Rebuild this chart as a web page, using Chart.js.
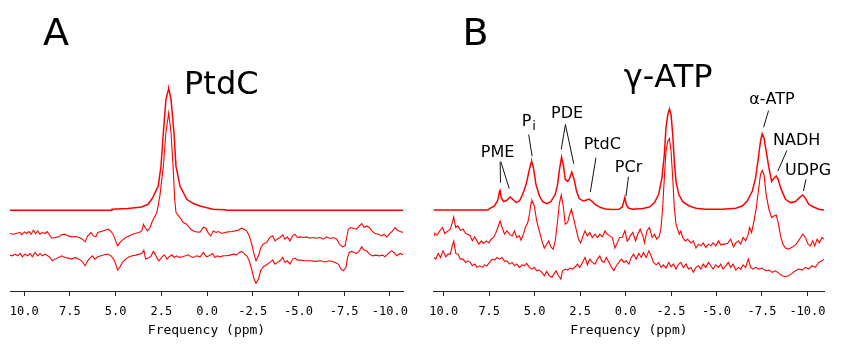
<!DOCTYPE html>
<html>
<head>
<meta charset="utf-8">
<script src="https://cdn.jsdelivr.net/npm/chart.js@4.4.1/dist/chart.umd.min.js"></script>
<style>
  body { margin: 0; background: #fff; }
  #wrap { position: relative; width: 841px; height: 346px; background: #fff; }
  canvas { position: absolute; top: 0; }
  #chartA { left: 0; }
  #chartB { left: 420px; }
</style>
</head>
<body>
<div id="wrap">
  <canvas id="chartA" width="420" height="346"></canvas>
  <canvas id="chartB" width="421" height="346"></canvas>
</div>
<script>
/* Data: [ppm, intensity (stacked offset units)] */

const tickValues = [10, 7.5, 5, 2.5, 0, -2.5, -5, -7.5, -10];

// Panel A - PtdC fit and residual traces
const fitA = [
  [10.78, 81], [5.25, 81], [5.2, 82], [4.33, 82.7], [3.58, 84.3], [3.23, 87], [3.03, 92],
  [2.94, 95], [2.76, 102], [2.67, 105.3], [2.52, 125.3], [2.39, 159], [2.25, 192], [2.13, 201],
  [2.10, 203], [2.07, 201], [1.97, 192], [1.81, 159], [1.70, 125.3], [1.48, 105.3], [1.11, 92],
  [0.77, 88], [0.39, 85.3], [-0.33, 82], [-0.98, 81.5], [-1.09, 81], [-10.72, 81]
];

const middleA = [
  [10.78, 57.7], [10.59, 57], [10.41, 58], [10.23, 58.7], [10.14, 56.3], [9.99, 59.3], [9.87, 57.7],
  [9.74, 59.7], [9.63, 57], [9.50, 61], [9.37, 57.7], [9.26, 60.3], [9.14, 57], [9.01, 58.7],
  [8.86, 57.7], [8.75, 59.7], [8.64, 57], [8.50, 53], [8.32, 53.7], [8.13, 54.3], [7.99, 56.3],
  [7.80, 57], [7.59, 55.3], [7.40, 54.3], [7.18, 54.7], [7.00, 53.7], [6.82, 52], [6.67, 49.3],
  [6.53, 55.3], [6.35, 58.7], [6.22, 55.3], [6.09, 54.3], [5.98, 58.7], [5.80, 59.7], [5.58, 61],
  [5.40, 62], [5.25, 59.7], [5.12, 56.3], [5.00, 50.3], [4.89, 45.3], [4.76, 48.7], [4.63, 51],
  [4.45, 53.7], [4.27, 55.3], [4.08, 57], [3.90, 58], [3.72, 58.7], [3.57, 60.3], [3.48, 67],
  [3.39, 63.7], [3.26, 60.3], [3.12, 63.7], [2.99, 70.3], [2.84, 75.3], [2.75, 78.7], [2.66, 87],
  [2.57, 97], [2.39, 125.3], [2.25, 159], [2.10, 178.7], [1.97, 159], [1.86, 125.3], [1.77, 92],
  [1.70, 79], [1.48, 73.7], [1.30, 68.7], [1.11, 67], [0.93, 62.7], [0.75, 60.3], [0.57, 59.3],
  [0.39, 59], [0.20, 64], [0.06, 63], [-0.07, 58], [-0.20, 55.3], [-0.34, 60.3], [-0.49, 58.7],
  [-0.62, 59.7], [-0.80, 57.7], [-0.98, 58.7], [-1.16, 59.3], [-1.35, 59.7], [-1.53, 60.3],
  [-1.71, 61], [-1.89, 63], [-2.02, 62], [-2.17, 60.3], [-2.31, 55.3], [-2.44, 47.3], [-2.57, 37],
  [-2.68, 30.3], [-2.81, 35.3], [-2.95, 43.7], [-3.08, 47.3], [-3.26, 48.7], [-3.44, 53.7],
  [-3.59, 55.3], [-3.72, 50.3], [-3.84, 52], [-3.99, 53.7], [-4.14, 56.3], [-4.26, 52], [-4.39, 54.3],
  [-4.54, 50.3], [-4.68, 55.3], [-4.81, 57], [-4.94, 53.7], [-5.08, 54.3], [-5.27, 53.7], [-5.45, 54.3],
  [-5.63, 53], [-5.81, 53.7], [-6.00, 53], [-6.18, 53.7], [-6.36, 52], [-6.54, 54.3], [-6.73, 52.7],
  [-6.91, 53.7], [-7.09, 52], [-7.24, 47.3], [-7.42, 44.3], [-7.55, 45.3], [-7.64, 53.7], [-7.73, 62],
  [-7.86, 63.7], [-8.04, 62.7], [-8.18, 62], [-8.33, 65.3], [-8.46, 67.7], [-8.59, 63.7], [-8.73, 65.3],
  [-8.88, 63.7], [-9.01, 60.3], [-9.19, 57.7], [-9.37, 57], [-9.55, 55.3], [-9.68, 57], [-9.83, 54.3],
  [-9.97, 57], [-10.15, 60.3], [-10.28, 63.7], [-10.41, 61], [-10.56, 59.7], [-10.74, 58.7]
];

const bottomA = [
  [10.78, 36], [10.65, 35.3], [10.50, 37], [10.36, 35.3], [10.23, 37.7], [10.10, 34.3], [9.96, 37],
  [9.81, 35.3], [9.68, 37.7], [9.56, 34.3], [9.41, 38.7], [9.26, 35.3], [9.14, 37.7], [9.01, 35.3],
  [8.86, 37], [8.72, 35.3], [8.59, 33.7], [8.46, 30.3], [8.32, 32], [8.13, 33.7], [7.95, 35.3],
  [7.77, 33.7], [7.59, 33], [7.40, 32], [7.22, 33.7], [7.04, 32], [6.86, 30.3], [6.67, 25.3],
  [6.53, 30.3], [6.40, 33], [6.27, 35.3], [6.13, 32], [5.98, 34.3], [5.80, 35.3], [5.62, 36.3],
  [5.43, 37], [5.25, 35.3], [5.11, 32], [5.00, 27], [4.89, 21], [4.76, 24.3], [4.63, 28.7],
  [4.45, 32], [4.27, 34.3], [4.08, 35.3], [3.90, 36], [3.72, 37], [3.57, 37.7], [3.46, 41],
  [3.36, 32], [3.21, 33], [3.06, 35.3], [2.94, 39.7], [2.84, 37], [2.74, 33], [2.63, 30.3],
  [2.48, 33.7], [2.33, 36.3], [2.19, 32], [2.08, 34.3], [1.93, 36.3], [1.79, 33.7], [1.66, 35.3],
  [1.53, 33.7], [1.35, 34.3], [1.17, 35.3], [1.02, 36.3], [0.88, 34.3], [0.75, 33.7], [0.57, 35.3],
  [0.38, 34.3], [0.20, 38.7], [0.11, 36.3], [0.02, 34.3], [-0.11, 35.3], [-0.31, 37.7], [-0.43, 33.7],
  [-0.56, 35.3], [-0.71, 34.3], [-0.89, 35.3], [-1.07, 35.3], [-1.25, 36], [-1.44, 37], [-1.62, 36.3],
  [-1.77, 38.7], [-1.89, 39.7], [-2.02, 37.7], [-2.17, 35.3], [-2.31, 30.3], [-2.44, 22], [-2.57, 12],
  [-2.68, 7.7], [-2.81, 12], [-2.93, 20.3], [-3.08, 24.3], [-3.26, 26.3], [-3.44, 28.7], [-3.59, 31],
  [-3.72, 27], [-3.84, 28.7], [-3.99, 30.3], [-4.14, 33.7], [-4.26, 28.7], [-4.39, 30.3], [-4.54, 27],
  [-4.68, 32], [-4.81, 33], [-4.94, 31], [-5.08, 31], [-5.36, 30.3], [-5.63, 30.3], [-5.91, 29.7],
  [-6.18, 30.3], [-6.45, 29.3], [-6.73, 30.3], [-7.00, 28.7], [-7.18, 27], [-7.33, 22], [-7.46, 20.3],
  [-7.60, 23.7], [-7.69, 33.7], [-7.78, 38.7], [-7.91, 39.7], [-8.04, 38.7], [-8.18, 37.7], [-8.33, 40.3],
  [-8.46, 44.3], [-8.59, 41], [-8.73, 40.3], [-8.88, 37], [-9.06, 35.3], [-9.24, 36], [-9.42, 35.3],
  [-9.61, 36], [-9.73, 34.3], [-9.92, 37.7], [-10.10, 40.3], [-10.23, 38.7], [-10.37, 35.3],
  [-10.56, 37.7], [-10.74, 36.3]
];

// Panel B - full fit and residual traces
const fitB = [
  [10.55, 81.3], [7.57, 81.3], [7.48, 82.7], [7.21, 85.3], [7.03, 91], [6.93, 100.3], [6.90, 101],
  [6.84, 93.7], [6.71, 89.7], [6.53, 91], [6.35, 94.3], [6.20, 92], [6.02, 88.7], [5.84, 90.3],
  [5.66, 97], [5.47, 107], [5.33, 118.7], [5.20, 128.7], [5.16, 129.7], [5.07, 123.7], [4.93, 107],
  [4.74, 95.3], [4.56, 89.7], [4.34, 87.7], [4.11, 89.7], [3.87, 97], [3.74, 107], [3.65, 120.3],
  [3.52, 134.3], [3.43, 127], [3.32, 112], [3.19, 110], [3.10, 112], [2.96, 119.3], [2.83, 112],
  [2.70, 100.3], [2.56, 93], [2.34, 90.3], [2.19, 91], [2.01, 92.3], [1.83, 89.7], [1.64, 86.3],
  [1.37, 83.7], [1.10, 82.3], [0.73, 81.7], [0.37, 82], [0.18, 84.3], [0.04, 94], [-0.04, 86.3],
  [-0.18, 83], [-0.40, 82], [-0.95, 82.7], [-1.31, 84.3], [-1.59, 88.7], [-1.82, 97], [-2.00, 113.7],
  [-2.13, 137], [-2.22, 163.7], [-2.32, 177], [-2.41, 182.7], [-2.50, 177], [-2.59, 157], [-2.68, 130.3],
  [-2.77, 110.3], [-2.92, 97], [-3.14, 89.7], [-3.50, 85.3], [-3.87, 83], [-4.41, 82], [-5.33, 82],
  [-6.06, 83], [-6.42, 85.3], [-6.69, 90.3], [-6.97, 100.3], [-7.15, 113.7], [-7.30, 133.7],
  [-7.42, 150.3], [-7.51, 157.7], [-7.61, 153.7], [-7.73, 140.3], [-7.88, 123.7], [-8.03, 110],
  [-8.15, 113], [-8.28, 115.5], [-8.39, 112], [-8.52, 103.7], [-8.79, 92], [-9.07, 88.7], [-9.34, 89.7],
  [-9.56, 93.7], [-9.74, 96.3], [-9.89, 93], [-10.07, 87], [-10.34, 84.3], [-10.62, 82], [-10.91, 81.3]
];

const middleB = [
  [10.55, 55], [10.49, 58], [10.37, 56], [10.22, 60.3], [10.07, 63.7], [9.95, 57.7], [9.76, 60.3],
  [9.64, 62], [9.53, 68.7], [9.45, 74.3], [9.34, 63.7], [9.22, 65.3], [9.09, 61], [8.94, 62],
  [8.80, 57.7], [8.67, 57], [8.54, 55.3], [8.43, 50.3], [8.30, 54.3], [8.17, 50.3], [8.07, 47],
  [7.94, 50.3], [7.81, 47.7], [7.66, 50.3], [7.52, 48.3], [7.39, 52], [7.26, 53.7], [7.15, 57.7],
  [7.03, 63.7], [6.90, 70.3], [6.79, 63.7], [6.66, 57], [6.53, 60.3], [6.39, 57], [6.24, 55.3],
  [6.11, 60.3], [5.99, 53.7], [5.84, 55.3], [5.75, 51], [5.62, 57], [5.51, 63.7], [5.38, 68.7],
  [5.29, 77], [5.20, 88.7], [5.15, 91], [5.02, 85.3], [4.89, 70.3], [4.75, 60.3], [4.60, 50.3],
  [4.47, 43], [4.34, 47], [4.23, 50.3], [4.11, 44.3], [3.98, 42], [3.87, 50.3], [3.74, 70.3],
  [3.65, 87], [3.54, 96.3], [3.43, 85.3], [3.32, 67], [3.19, 68.7], [3.10, 75.3], [2.98, 82],
  [2.87, 73.7], [2.74, 63.7], [2.59, 52], [2.47, 48.3], [2.34, 55.3], [2.23, 60.3], [2.10, 55.3],
  [1.97, 58.7], [1.83, 53.7], [1.68, 57], [1.55, 53.7], [1.42, 57], [1.28, 54.3], [1.13, 60.3],
  [1.01, 57], [0.88, 55.3], [0.73, 53.7], [0.59, 43], [0.46, 48.3], [0.33, 53.7], [0.18, 54],
  [0.04, 60.5], [-0.09, 50], [-0.18, 52], [-0.25, 55.3], [-0.40, 58.7], [-0.55, 50.3], [-0.67, 57],
  [-0.80, 62], [-0.95, 55.3], [-1.04, 48.3], [-1.17, 60.3], [-1.31, 63.7], [-1.46, 53.7], [-1.59, 57],
  [-1.71, 52], [-1.86, 55.3], [-1.95, 63.7], [-2.04, 83.7], [-2.13, 113.7], [-2.22, 140.3],
  [-2.32, 150.3], [-2.41, 153], [-2.50, 140.3], [-2.59, 113.7], [-2.68, 83.7], [-2.77, 67], [-2.86, 62],
  [-2.95, 57], [-3.04, 60.3], [-3.14, 53.7], [-3.28, 50.3], [-3.41, 52], [-3.59, 48.3], [-3.72, 50.3],
  [-3.87, 43], [-4.01, 47], [-4.14, 45.3], [-4.27, 48.3], [-4.41, 43.7], [-4.56, 47], [-4.69, 45.3],
  [-4.81, 48.3], [-4.96, 45.3], [-5.11, 50.3], [-5.23, 46.3], [-5.42, 47], [-5.60, 47.7], [-5.78, 52],
  [-5.93, 44.3], [-6.06, 48.3], [-6.20, 50.3], [-6.33, 47], [-6.46, 53.7], [-6.60, 50.3], [-6.75, 57],
  [-6.82, 63.7], [-6.93, 58.7], [-7.06, 70.3], [-7.19, 83.7], [-7.30, 100.3], [-7.42, 117], [-7.51, 121],
  [-7.61, 117], [-7.73, 97], [-7.88, 82], [-8.03, 73.7], [-8.15, 75.3], [-8.28, 76.3], [-8.39, 68.7],
  [-8.52, 55.3], [-8.65, 47], [-8.79, 43], [-8.97, 42], [-9.19, 44.3], [-9.38, 47], [-9.56, 52],
  [-9.74, 57], [-9.89, 53.7], [-10.03, 47], [-10.16, 45.3], [-10.29, 50.3], [-10.40, 45.3],
  [-10.53, 52], [-10.65, 48.3], [-10.80, 53.7], [-10.91, 52]
];

const bottomB = [
  [10.55, 33.7], [10.44, 32], [10.31, 37.7], [10.18, 33.7], [10.04, 40.3], [9.89, 34.3], [9.76, 37],
  [9.64, 37], [9.53, 45.3], [9.45, 50], [9.34, 37.7], [9.22, 37], [9.09, 32], [8.94, 32], [8.80, 28.7],
  [8.67, 30.3], [8.54, 28.7], [8.43, 25.3], [8.30, 27], [8.17, 23.7], [8.03, 25.3], [7.88, 23.7],
  [7.76, 26.3], [7.63, 25.3], [7.48, 28.7], [7.34, 32], [7.21, 31], [7.08, 33.7], [6.93, 32],
  [6.79, 33.7], [6.66, 29.7], [6.53, 30.3], [6.39, 27], [6.24, 28.7], [6.11, 25.3], [5.99, 27],
  [5.84, 23.7], [5.69, 26.3], [5.57, 25.3], [5.44, 27.7], [5.29, 23.7], [5.15, 22], [5.02, 23.7],
  [4.89, 20.3], [4.75, 21], [4.60, 18.7], [4.47, 15.3], [4.34, 19.7], [4.20, 15.3], [4.05, 13.7],
  [3.92, 17.7], [3.83, 20.3], [3.69, 15.3], [3.56, 12], [3.47, 20.3], [3.32, 22], [3.19, 21],
  [3.07, 23], [2.92, 22], [2.77, 24.3], [2.65, 27], [2.52, 23.7], [2.37, 28.7], [2.23, 33.7],
  [2.10, 26.3], [1.97, 32], [1.83, 28.7], [1.68, 27], [1.55, 32], [1.42, 35.3], [1.32, 30.3],
  [1.19, 28.7], [1.06, 33.7], [0.91, 28.7], [0.77, 23.7], [0.64, 20.3], [0.51, 25.3], [0.37, 28.7],
  [0.22, 32], [0.09, 28.7], [-0.04, 30.3], [-0.18, 27], [-0.31, 33.7], [-0.44, 37], [-0.58, 32],
  [-0.73, 37.7], [-0.86, 33.7], [-0.98, 38.7], [-1.13, 33.7], [-1.28, 40.3], [-1.40, 35.3],
  [-1.53, 28.7], [-1.68, 26.3], [-1.82, 28.7], [-1.95, 23.7], [-2.08, 26.3], [-2.22, 23],
  [-2.37, 28.7], [-2.50, 24.3], [-2.63, 27], [-2.77, 22], [-2.92, 27], [-3.04, 28.7], [-3.17, 23.7],
  [-3.32, 27], [-3.46, 22], [-3.59, 23.7], [-3.72, 18.7], [-3.87, 23.7], [-4.01, 25.3], [-4.14, 22],
  [-4.27, 27], [-4.41, 23.7], [-4.56, 28.7], [-4.69, 25.3], [-4.81, 22], [-4.96, 26.3], [-5.11, 23.7],
  [-5.23, 27], [-5.36, 22], [-5.51, 25.3], [-5.65, 28.7], [-5.78, 23.7], [-5.91, 27], [-6.06, 21],
  [-6.20, 23.7], [-6.33, 22], [-6.46, 26.3], [-6.60, 23.7], [-6.75, 32], [-6.88, 23.7], [-7.00, 22],
  [-7.15, 23.7], [-7.33, 22], [-7.51, 23], [-7.70, 20.3], [-7.88, 21], [-8.06, 18.7], [-8.24, 20.3],
  [-8.43, 17.7], [-8.61, 15.3], [-8.79, 14.3], [-8.97, 15.3], [-9.16, 17.7], [-9.34, 20.3],
  [-9.52, 22], [-9.70, 21], [-9.89, 23.7], [-10.07, 22], [-10.25, 25.3], [-10.43, 23.7],
  [-10.62, 28.7], [-10.80, 30.3], [-10.91, 32]
];

/* Labels and leader lines (ppm, intensity) */

const labelsA = [
  { text: "A", ppm: 8.26, v: 247, size: 38 },
  { text: "PtdC", ppm: -0.78, v: 198, size: 32 }
];

const labelsB = [
  { text: "B", ppm: 8.25, v: 247, size: 38 },
  { text: "γ-ATP", ppm: -2.34, v: 204.3, size: 32 },
  { text: "PME", ppm: 7.04, v: 134, size: 16 },
  { text: "P", sub: "i", ppm: 5.45, v: 165.3, size: 16 },
  { text: "PDE", ppm: 3.22, v: 173.7, size: 16 },
  { text: "PtdC", ppm: 1.28, v: 142.7, size: 16 },
  { text: "PCr", ppm: -0.16, v: 119.3, size: 16 },
  { text: "α-ATP", ppm: -8.05, v: 187.7, size: 16 },
  { text: "NADH", ppm: -9.41, v: 146.7, size: 16 },
  { text: "UDPG", ppm: -10.03, v: 116, size: 16 }
];

const leadersB = [
  [[6.90, 129.7], [6.88, 108.7]],
  [[6.86, 129.7], [6.40, 102.7]],
  [[5.33, 157], [5.14, 135.3]],
  [[3.31, 167], [3.54, 142]],
  [[3.31, 167], [2.85, 127.7]],
  [[1.63, 133.7], [1.94, 99.3]],
  [[-0.16, 114.7], [-0.02, 95.3]],
  [[-7.86, 181], [-7.59, 164.3]],
  [[-8.87, 141], [-8.37, 120.3]],
  [[-9.92, 112], [-9.78, 100.3]]
];

/* Chart setup */

const toPoints = arr => arr.map(p => ({ x: p[0], y: p[1] }));

function labelPlugin(labels, leaders) {
    return {
        id: "peakLabels",
        afterDraw(chart) {
            const ctx = chart.ctx;
            const xs = chart.scales.x;
            const ys = chart.scales.y;
            ctx.save();
            ctx.fillStyle = "#000";
            ctx.strokeStyle = "#111";
            ctx.lineWidth = 1;
            ctx.textBaseline = "alphabetic";

            leaders.forEach(line => {
                ctx.beginPath();
                ctx.moveTo(xs.getPixelForValue(line[0][0]), ys.getPixelForValue(line[0][1]));
                ctx.lineTo(xs.getPixelForValue(line[1][0]), ys.getPixelForValue(line[1][1]));
                ctx.stroke();
            });

            labels.forEach(label => {
                const x = xs.getPixelForValue(label.ppm);
                const y = ys.getPixelForValue(label.v);
                ctx.font = `${label.size}px "DejaVu Sans"`;
                ctx.textAlign = "center";
                ctx.fillText(label.text, x, y);
                if (label.sub) {
                    const w = ctx.measureText(label.text).width;
                    ctx.font = `${Math.round(label.size * 0.8)}px "DejaVu Sans"`;
                    ctx.textAlign = "left";
                    ctx.fillText(label.sub, x + w / 2 + 1, y + 4);
                }
            });
            ctx.restore();
        }
    };
}

function makeChart(canvas, traces, xMin, xMax, padLeft, padRight, labels, leaders) {
    return new Chart(canvas, {
        type: "line",
        data: {
            datasets: traces.map((trace, i) => ({
                data: toPoints(trace),
                borderColor: "#ff0000",
                borderWidth: i === 0 ? 1.5 : 1.1,
                pointRadius: 0,
                tension: 0,
                fill: false
            }))
        },
        options: {
            responsive: false,
            animation: false,
            layout: {
                padding: { left: padLeft, right: padRight, top: 0, bottom: 2 }
            },
            plugins: {
                legend: { display: false },
                tooltip: { enabled: false }
            },
            scales: {
                x: {
                    type: "linear",
                    reverse: true,
                    min: xMin,
                    max: xMax,
                    afterBuildTicks: scale => {
                        scale.ticks = tickValues.map(value => ({ value }));
                    },
                    grid: {
                        display: true,
                        drawOnChartArea: false,
                        drawTicks: true,
                        tickLength: 5,
                        color: "#222"
                    },
                    border: { display: true, color: "#222", width: 1 },
                    ticks: {
                        autoSkip: false,
                        maxRotation: 0,
                        padding: 9,
                        color: "#000",
                        font: { family: "DejaVu Sans Mono", size: 12 },
                        callback: value => value.toFixed(1)
                    },
                    title: {
                        display: true,
                        text: "Frequency (ppm)",
                        color: "#000",
                        font: { family: "DejaVu Sans Mono", size: 13 },
                        padding: { top: -6, bottom: 6 }
                    }
                },
                y: {
                    display: false,
                    min: 0,
                    max: 292
                }
            }
        },
        plugins: [labelPlugin(labels, leaders)]
    });
}

makeChart(document.querySelector("#chartA"), [fitA, middleA, bottomA], -10.72, 10.78, 10, 17, labelsA, []);
makeChart(document.querySelector("#chartB"), [fitB, middleB, bottomB], -10.91, 10.55, 12, 17, labelsB, leadersB);
</script>
</body>
</html>
